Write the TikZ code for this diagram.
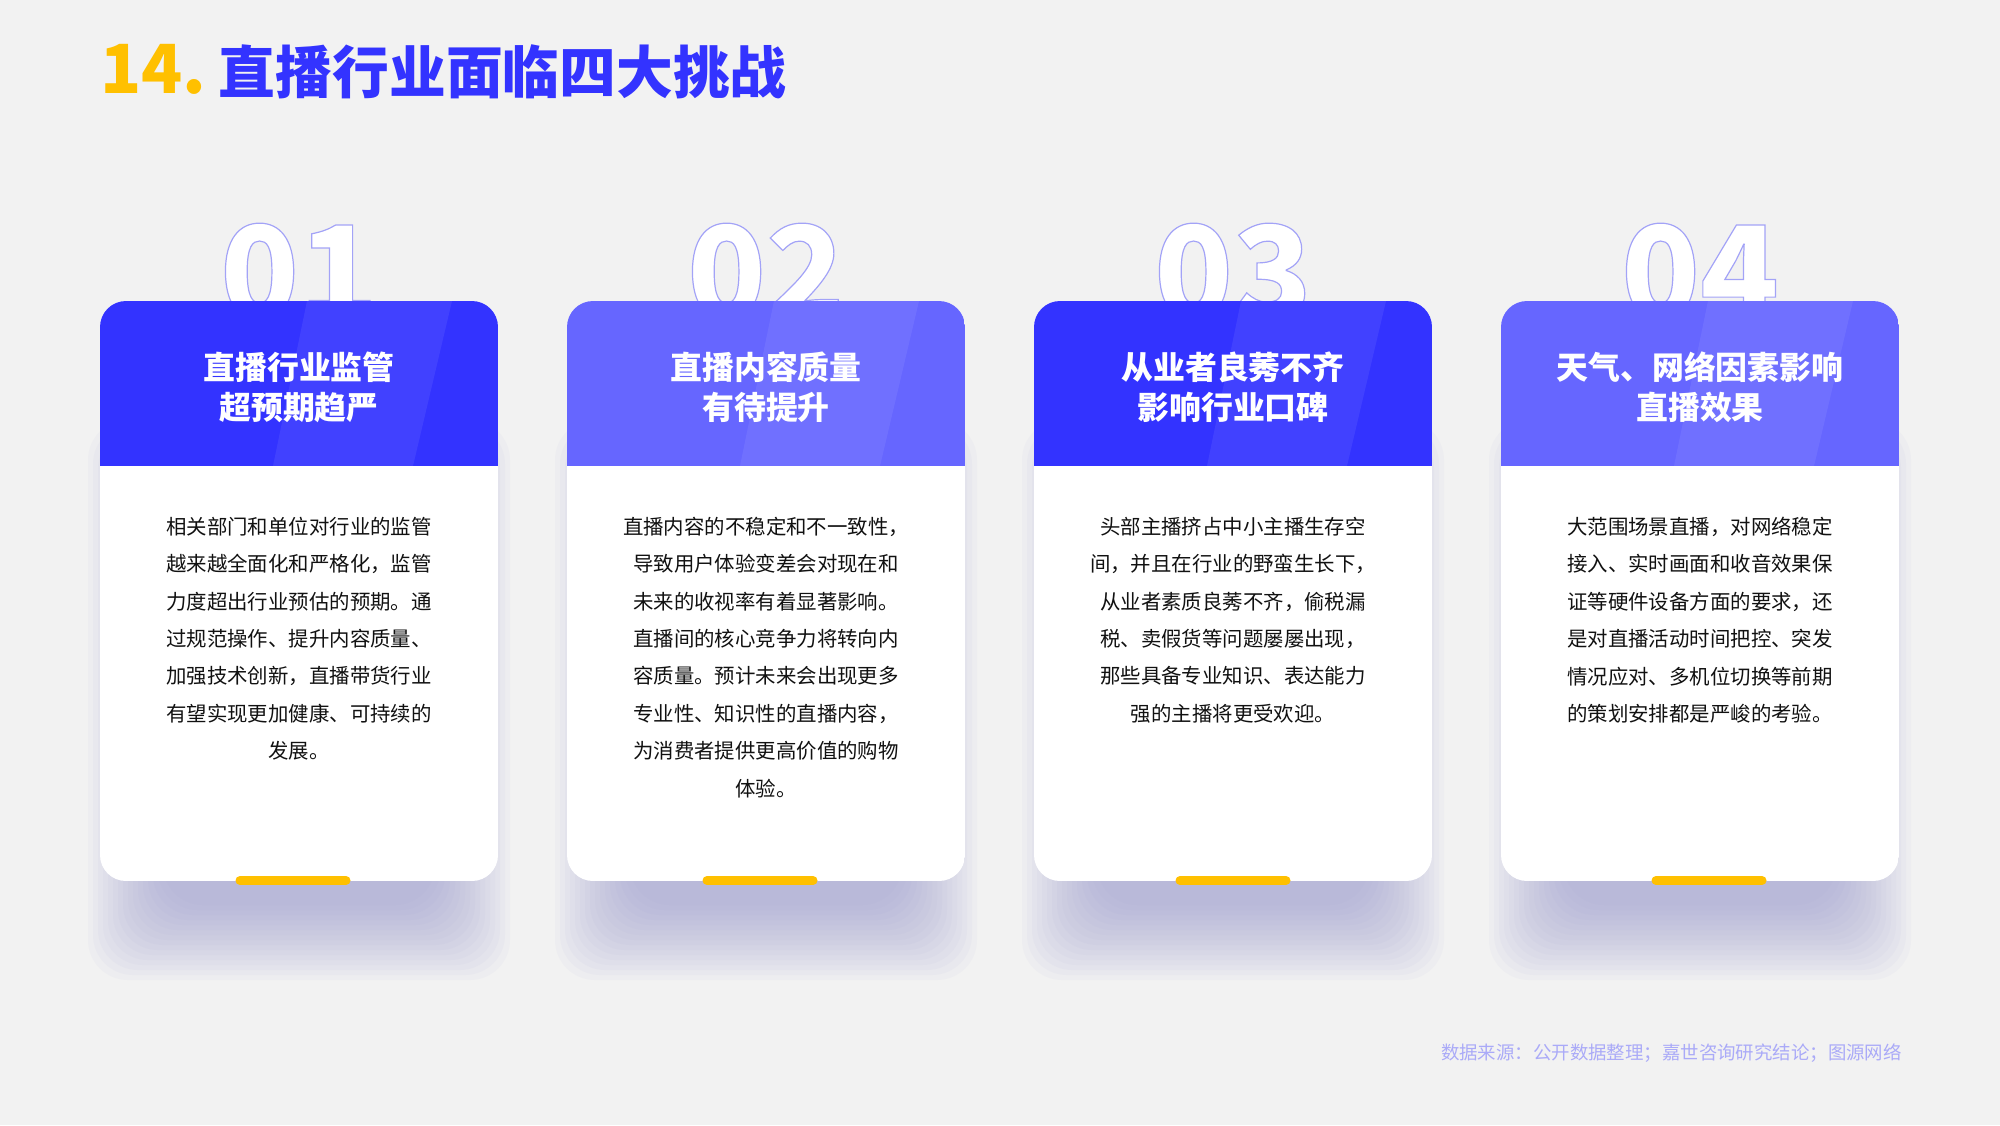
\documentclass[tikz,border=0pt]{standalone}
\usepackage{fontspec}
\setmainfont{Noto Sans CJK SC}
\usetikzlibrary{positioning}
\definecolor{bgcol}{RGB}{242,242,242}
\definecolor{yellowcol}{RGB}{255,192,0}
\definecolor{bluecol}{RGB}{51,51,255}
\definecolor{hdrdark}{RGB}{51,51,255}
\definecolor{hdrlight}{RGB}{102,102,255}
\definecolor{textcol}{RGB}{17,17,17}
\definecolor{srccol}{RGB}{170,170,248}
\definecolor{shadowcol}{RGB}{150,150,205}
% outlined big numbers
\newcommand{\numoutline}[1]{\special{pdf:literal direct 0.64 0.64 0.97 RG 1.2 w 2 Tr}#1\special{pdf:literal direct 0 Tr}}
\tikzset{
    %Define style for title
    titlenum/.style={
           anchor=base west,
           inner sep=0pt,
           font=\fontsize{68}{68}\selectfont\bfseries,
           text=yellowcol},
    titletext/.style={
           inner sep=0pt,
           font=\fontsize{57}{57}\selectfont\bfseries,
           text=bluecol},
    %Define style for card texts
    bignum/.style={
           anchor=base,
           inner sep=0pt,
           font=\fontsize{130}{130}\selectfont\bfseries,
           text=white},
    headtext/.style={
           align=center,
           inner sep=0pt,
           font=\fontsize{32}{40}\selectfont\bfseries,
           text=white},
    bodytext/.style={
           align=center,
           anchor=north,
           inner sep=0pt,
           font=\fontsize{20.5}{37.5}\selectfont,
           text=textcol},
    source/.style={
           anchor=east,
           inner sep=0pt,
           font=\fontsize{18.5}{18.5}\selectfont,
           text=srccol},
    % Define shape styles
    band/.style={fill=white, opacity=0.07},
    shadowlayer/.style={fill=shadowcol, opacity=0.05, rounded corners=40bp},
    barline/.style={draw=yellowcol, line width=9bp, line cap=round}
}
\begin{document}
\begin{tikzpicture}[x=1bp,y=-1bp]
\useasboundingbox (0,0) rectangle (2000,1125);
\fill[bgcol] (0,0) rectangle (2000,1125);

\node[titlenum] (titlenum) at (100,93) {14.};
\node[titletext, base right=12bp of titlenum] (titletext) {直播行业面临四大挑战};

% shadows
\foreach \i in {0,...,3}{
  \pgfmathsetmacro{\cardx}{100+467*\i}
  \foreach \k in {0,...,15}
    \fill[shadowlayer] (\cardx-12+5*\k,420+4*\k) rectangle (\cardx+410-5*\k,980-5*\k);
}

\node[bignum] (num1) at (299,319) {\numoutline{01}};
\node[bignum] (num2) at (766,319) {\numoutline{02}};
\node[bignum] (num3) at (1233,319) {\numoutline{03}};
\node[bignum] (num4) at (1700,319) {\numoutline{04}};

% cards
\foreach \i/\hc/\bx in {0/hdrdark/293,1/hdrlight/760,2/hdrdark/1233,3/hdrlight/1709}{
  \pgfmathsetmacro{\cardx}{100+467*\i}
  \begin{scope}
    \clip[rounded corners=26bp] (\cardx,301) rectangle ++(398,580);
    \fill[white] (\cardx,301) rectangle ++(398,580);
    \fill[fill=\hc] (\cardx,301) rectangle ++(398,165);
    \fill[band] (\cardx+207,301) -- (\cardx+352,301) -- (\cardx+313,466) -- (\cardx+173,466) -- cycle;
  \end{scope}
  \draw[barline] (\bx-53,880.5) -- (\bx+53,880.5);
}

\node[headtext] (head1) at (299,387) {直播行业监管\\超预期趋严};
\node[headtext] (head2) at (766,387) {直播内容质量\\有待提升};
\node[headtext] (head3) at (1233,387) {从业者良莠不齐\\影响行业口碑};
\node[headtext] (head4) at (1700,387) {天气、网络因素影响\\直播效果};

\node[bodytext] (body1) at (299,517) {相关部门和单位对行业的监管\\
越来越全面化和严格化，监管\\
力度超出行业预估的预期。通\\
过规范操作、提升内容质量、\\
加强技术创新，直播带货行业\\
有望实现更加健康、可持续的\\
发展。};
\node[bodytext] (body2) at (766,517) {直播内容的不稳定和不一致性，\\
导致用户体验变差会对现在和\\
未来的收视率有着显著影响。\\
直播间的核心竞争力将转向内\\
容质量。预计未来会出现更多\\
专业性、知识性的直播内容，\\
为消费者提供更高价值的购物\\
体验。};
\node[bodytext] (body3) at (1233,517) {头部主播挤占中小主播生存空\\
间，并且在行业的野蛮生长下，\\
从业者素质良莠不齐，偷税漏\\
税、卖假货等问题屡屡出现，\\
那些具备专业知识、表达能力\\
强的主播将更受欢迎。};
\node[bodytext] (body4) at (1700,517) {大范围场景直播，对网络稳定\\
接入、实时画面和收音效果保\\
证等硬件设备方面的要求，还\\
是对直播活动时间把控、突发\\
情况应对、多机位切换等前期\\
的策划安排都是严峻的考验。};

\node[source] (source) at (1902,1053) {数据来源：公开数据整理；嘉世咨询研究结论；图源网络};
\end{tikzpicture}
\end{document}
